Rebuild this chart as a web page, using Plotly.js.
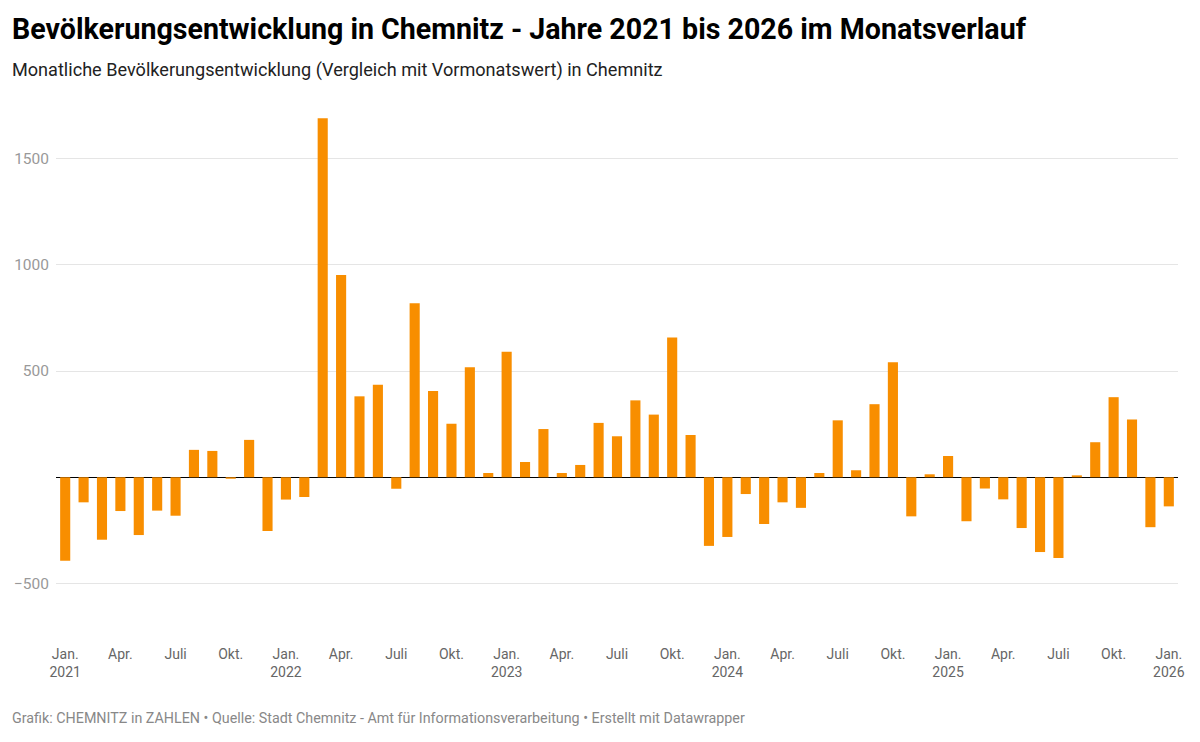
<!DOCTYPE html>
<html>
<head>
<meta charset="utf-8">
<script src="https://cdn.plot.ly/plotly-3.0.1.min.js"></script>
<style>
  html, body { margin: 0; padding: 0; background: #fff; }
  #chart { width: 1200px; height: 742px; }
</style>
</head>
<body>
<div id="chart"></div>
<script>
// Categories: months Jan 2021 .. Jan 2026
const years = [2021, 2022, 2023, 2024, 2025, 2026];
const monthNames = ["Jan.", "Feb.", "März", "Apr.", "Mai", "Juni", "Juli", "Aug.", "Sep.", "Okt.", "Nov.", "Dez."];

// Monthly population change vs previous month
const values2021 = [-393, -118, -294, -159, -272, -157, -181, 129, 124, -7, 176, -253];
const values2022 = [-105, -93, 1690, 952, 381, 435, -54, 819, 406, 252, 518, 20];
const values2023 = [591, 72, 227, 20, 58, 256, 193, 362, 295, 658, 199, -323];
const values2024 = [-281, -79, -220, -118, -144, 20, 268, 33, 344, 541, -184, 14];
const values2025 = [100, -207, -53, -104, -239, -352, -380, 9, 165, 377, 272, -235];
const values2026 = [-137];

const yTickVals = [-500, 500, 1000, 1500];
const yTickText = ["\u2212500", "500", "1000", "1500"];

const seriesByYear = [values2021, values2022, values2023, values2024, values2025, values2026];
const categories = [];
const values = [];
seriesByYear.forEach((arr, yi) => {
  arr.forEach((v, mi) => {
    categories.push(monthNames[mi] + " " + years[yi]);
    values.push(v);
  });
});

// x tick labels every quarter
const xTickVals = [];
const xTickText = [];
categories.forEach((c, i) => {
  const m = i % 12;
  const y = years[Math.floor(i / 12)];
  if (m === 0) { xTickVals.push(c); xTickText.push("Jan.<br>" + y); }
  else if (m === 3) { xTickVals.push(c); xTickText.push("Apr."); }
  else if (m === 6) { xTickVals.push(c); xTickText.push("Juli"); }
  else if (m === 9) { xTickVals.push(c); xTickText.push("Okt."); }
});

const trace = {
  type: "bar",
  x: categories,
  y: values,
  marker: { color: "#f88e00", line: { width: 0 } },
  hoverinfo: "x+y"
};

const layout = {
  width: 1200,
  height: 742,
  margin: { l: 56, r: 22, t: 100, b: 112 },
  paper_bgcolor: "#fff",
  plot_bgcolor: "#fff",
  font: { family: "Roboto, 'Noto Sans', sans-serif", color: "#333" },
  showlegend: false,
  bargap: 0.45,
  xaxis: {
    type: "category",
    range: [-0.5, 60.5],
    tickmode: "array",
    tickvals: xTickVals,
    ticktext: xTickText,
    tickangle: 0,
    showgrid: false,
    showline: false,
    ticks: "",
    tickfont: { size: 14, color: "#666" },
    ticklabelstandoff: 14,
    zeroline: false,
    fixedrange: true
  },
  yaxis: {
    range: [-719, 1776],
    tickmode: "array",
    tickvals: yTickVals,
    ticktext: yTickText,
    showgrid: true,
    gridcolor: "#e5e5e5",
    gridwidth: 1,
    zeroline: true,
    zerolinecolor: "#000",
    zerolinewidth: 1.5,
    showline: false,
    ticks: "",
    ticklabelstandoff: 6,
    tickfont: { size: 15.5, color: "#999" },
    fixedrange: true
  },
  annotations: [
    {
      text: "<b>Bevölkerungsentwicklung in Chemnitz - Jahre 2021 bis 2026 im Monatsverlauf</b>",
      xref: "paper", yref: "paper", x: 0, y: 0, xanchor: "left", yanchor: "top",
      showarrow: false, align: "left",
      font: { size: 28.6, color: "#000", family: "Roboto, sans-serif" }
    },
    {
      text: "Monatliche Bevölkerungsentwicklung (Vergleich mit Vormonatswert) in Chemnitz",
      xref: "paper", yref: "paper", x: 0, y: 0, xanchor: "left", yanchor: "top",
      showarrow: false, align: "left",
      font: { size: 18.1, color: "#222", family: "Roboto, sans-serif" }
    },
    {
      text: "Grafik: CHEMNITZ in ZAHLEN • Quelle: Stadt Chemnitz - Amt für Informationsverarbeitung • Erstellt mit Datawrapper",
      xref: "paper", yref: "paper", x: 0, y: 0, xanchor: "left", yanchor: "top",
      showarrow: false, align: "left",
      font: { size: 14.3, color: "#888", family: "Roboto, sans-serif" }
    }
  ]
};

// Position the header/footer annotations in pixel terms relative to the paper
const plotH = layout.height - layout.margin.t - layout.margin.b;
const plotW = layout.width - layout.margin.l - layout.margin.r;
function px(xPix) { return (xPix - layout.margin.l) / plotW; }
function py(yPix) { return (layout.height - layout.margin.b - yPix) / plotH; }
layout.annotations[0].x = px(10); layout.annotations[0].y = py(10);
layout.annotations[1].x = px(10); layout.annotations[1].y = py(57);
layout.annotations[2].x = px(10); layout.annotations[2].y = py(708);

Plotly.newPlot("chart", [trace], layout, { displayModeBar: false, staticPlot: true });
</script>
</body>
</html>
